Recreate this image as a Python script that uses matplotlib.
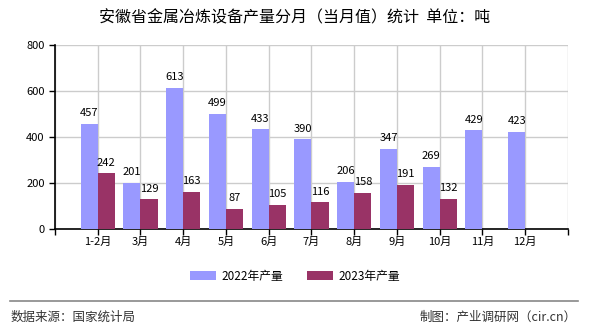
import numpy as np
import matplotlib.pyplot as plt

plt.rcParams['font.family'] = ['Noto Sans CJK SC', 'DejaVu Sans']

# 数据
months = ['1-2月', '3月', '4月', '5月', '6月', '7月', '8月', '9月', '10月', '11月', '12月']
prod_2022 = [457, 201, 613, 499, 433, 390, 206, 347, 269, 429, 423]
prod_2023 = [242, 129, 163, 87, 105, 116, 158, 191, 132, None, None]

fig = plt.figure(figsize=(5.9, 3.3), dpi=100)
ax = fig.add_axes([0.0932, 0.306, 0.8695, 0.5576])

x = np.arange(1, len(months) + 1)
w = 0.4
c22 = '#9999FF'
c23 = '#993366'

v23 = [np.nan if v is None else v for v in prod_2023]
b1 = ax.bar(x - w / 2, prod_2022, w, color=c22, label='2022年产量', zorder=3)
b2 = ax.bar(x + w / 2, v23, w, color=c23, label='2023年产量', zorder=3)

for xi, v in zip(x, prod_2022):
    ax.text(xi - w / 2, v + 25, str(v), ha='center', va='bottom', fontsize=8)
for xi, v in zip(x, prod_2023):
    if v is not None:
        ax.text(xi + w / 2, v + 25, str(v), ha='center', va='bottom', fontsize=8)

ax.set_xlim(0, len(months) + 1)
ax.set_ylim(0, 800)
ax.set_yticks([0, 200, 400, 600, 800])
ax.set_xticks(np.arange(0, len(months) + 2))
ax.set_xticklabels([''] + months + [''])
ax.tick_params(axis='both', labelsize=8, length=4, width=1, direction='out')
ax.tick_params(axis='x', pad=2)

ax.grid(True, color='#CCCCCC', linewidth=1, zorder=0)
for s in ['top', 'right']:
    ax.spines[s].set_visible(False)
ax.spines['left'].set_linewidth(1.2)
ax.spines['bottom'].set_linewidth(1.2)

fig.text(0.5, 0.945, '安徽省金属冶炼设备产量分月（当月值）统计  单位：吨',
         ha='center', va='center', fontsize=11.5)

fig.legend(handles=[b1, b2], loc='center', bbox_to_anchor=(0.5, 0.162), ncol=2,
           frameon=False, fontsize=8.5, handlelength=2.2, handleheight=0.8,
           columnspacing=2.0, handletextpad=0.5)

fig.add_artist(plt.Line2D([0.017, 0.98], [0.088, 0.088], color='#888888', linewidth=1.2,
                          transform=fig.transFigure))
fig.text(0.018, 0.04, '数据来源：国家统计局', ha='left', va='center', fontsize=9, color='#333333')
fig.text(0.978, 0.04, '制图：产业调研网（cir.cn）', ha='right', va='center', fontsize=9, color='#333333')

fig.savefig('out.png', dpi=100)
